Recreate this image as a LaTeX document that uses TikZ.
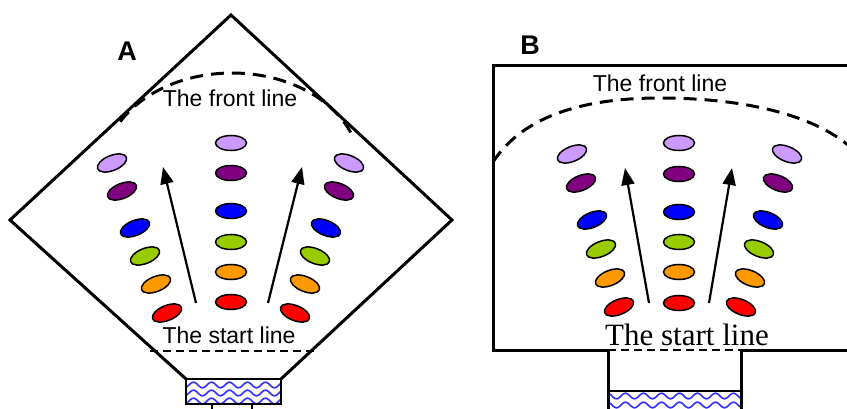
\documentclass[tikz,border=0pt]{standalone}
\usepackage{fontspec}
\setmainfont{Liberation Serif}
\newfontfamily\arialfam{Liberation Sans}
\usetikzlibrary{shapes.geometric,arrows.meta}

\definecolor{lilac}{HTML}{CC99FF}
\definecolor{plum}{HTML}{800080}
\definecolor{royal}{HTML}{0000FF}
\definecolor{lime}{HTML}{99CC00}
\definecolor{amber}{HTML}{FF9900}
\definecolor{scarlet}{HTML}{FF0000}
\definecolor{wave}{HTML}{3030FF}

\tikzset{
  wall/.style={line width=3pt, line join=miter, line cap=rect},
  bead/.style={ellipse, draw, line width=1.5pt, minimum width=31pt, minimum height=15pt, inner sep=0pt},
  frontdash/.style={line width=3pt, dash pattern=on 13pt off 8pt},
  startdash/.style={line width=2pt, dash pattern=on 8pt off 5pt},
  runarrow/.style={line width=2.2pt, -{Triangle[length=17pt,width=13pt]}},
  sanslabel/.style={font=\arialfam\fontsize{23}{27}\selectfont, anchor=base, inner sep=0pt},
  seriflabel/.style={font=\fontsize{31}{35}\selectfont, anchor=base, inner sep=0pt},
  paneltag/.style={font=\arialfam\bfseries\fontsize{27}{31}\selectfont, anchor=base, inner sep=0pt},
  ripple/.style={wave, line width=1.6pt}
}

\begin{document}
\begin{tikzpicture}[x=1pt, y=-1pt]
\useasboundingbox (0,0) rectangle (847,409);

% ---------------- Panel A: diamond arena ----------------
\node[paneltag] (tagA) at (127,61) {A};

% water tank below the arena
\fill[white] (186,379) rectangle (281,404);
\begin{scope}
  \clip (186,379) rectangle (281,404);
  \foreach \yy in {385,393,401}
    \draw[ripple] plot[domain=183:284, samples=90] (\x, {\yy + 2.8*sin(20*\x)});
\end{scope}
\draw[line width=2.6pt] (186,379) rectangle (281,404);
\draw[line width=2.6pt] (212,404) -- (212,409) (252,404) -- (252,409);

% diamond outline
\draw[wall] (186,379) -- (10,220) -- (231,15) -- (452,220) -- (281,379);

% front line arc
\draw[frontdash] plot[domain=22:152, samples=80] ({232+128*cos(\x)}, {168-95*sin(\x)});
\node[sanslabel] (frontA) at (230,107) {The front line};

% start line
\draw[startdash] (150,351) -- (317,351);
\node[sanslabel] (startA) at (229,343) {The start line};

% beads: centre column
\node[bead, fill=lilac]   (ac1) at (231,143) {};
\node[bead, fill=plum]    (ac2) at (231,173) {};
\node[bead, fill=royal]   (ac3) at (231,211) {};
\node[bead, fill=lime]    (ac4) at (231,242) {};
\node[bead, fill=amber]   (ac5) at (231,272) {};
\node[bead, fill=scarlet] (ac6) at (231,302) {};
% beads: left column
\node[bead, fill=lilac,   rotate=22] (al1) at (112,163) {};
\node[bead, fill=plum,    rotate=22] (al2) at (122,191) {};
\node[bead, fill=royal,   rotate=22] (al3) at (135,228) {};
\node[bead, fill=lime,    rotate=22] (al4) at (145,256) {};
\node[bead, fill=amber,   rotate=22] (al5) at (156,284) {};
\node[bead, fill=scarlet, rotate=22] (al6) at (167,313) {};
% beads: right column
\node[bead, fill=lilac,   rotate=-22] (ar1) at (349,163) {};
\node[bead, fill=plum,    rotate=-22] (ar2) at (339,191) {};
\node[bead, fill=royal,   rotate=-22] (ar3) at (326,228) {};
\node[bead, fill=lime,    rotate=-22] (ar4) at (315,256) {};
\node[bead, fill=amber,   rotate=-22] (ar5) at (305,284) {};
\node[bead, fill=scarlet, rotate=-22] (ar6) at (295,313) {};

% direction arrows
\coordinate (aLfrom) at (196,303);
\coordinate (aLto)   at (163,167);
\coordinate (aRfrom) at (268,303);
\coordinate (aRto)   at (302,167);
\draw[runarrow] (aLfrom) -- (aLto);
\draw[runarrow] (aRfrom) -- (aRto);

% ---------------- Panel B: rectangular arena ----------------
\node[paneltag] (tagB) at (530,55) {B};

% water in the entry channel
\begin{scope}
  \clip (608,391) rectangle (741,409);
  \foreach \yy in {396,405}
    \draw[ripple] plot[domain=605:744, samples=110] (\x, {\yy + 2.8*sin(20*\x)});
\end{scope}
\draw[line width=2.6pt] (608,391) -- (741,391);

% arena outline and entry channel
\draw[wall] (850,65.5) -- (493,65.5) -- (493,350) -- (608,350) -- (608,412);
\draw[wall] (741,412) -- (741,350) -- (850,350);

% front line arc
\draw[frontdash] (493,162) .. controls (525,113) and (590,98) .. (660,98)
                 .. controls (730,98) and (805,110) .. (848,145);
\node[sanslabel] (frontB) at (660,92) {The front line};

% start line
\draw[startdash] (608,350) -- (741,350);
\node[seriflabel] (startB) at (687,345) {The start line};

% beads: centre column
\node[bead, fill=lilac]   (bc1) at (679,143) {};
\node[bead, fill=plum]    (bc2) at (679,174) {};
\node[bead, fill=royal]   (bc3) at (679,212) {};
\node[bead, fill=lime]    (bc4) at (679,242) {};
\node[bead, fill=amber]   (bc5) at (679,272) {};
\node[bead, fill=scarlet] (bc6) at (679,303) {};
% beads: left column
\node[bead, fill=lilac,   rotate=22] (bl1) at (572,154) {};
\node[bead, fill=plum,    rotate=22] (bl2) at (581,183) {};
\node[bead, fill=royal,   rotate=22] (bl3) at (592,220) {};
\node[bead, fill=lime,    rotate=22] (bl4) at (601,249) {};
\node[bead, fill=amber,   rotate=22] (bl5) at (610,278) {};
\node[bead, fill=scarlet, rotate=22] (bl6) at (619,307) {};
% beads: right column
\node[bead, fill=lilac,   rotate=-22] (br1) at (787,154) {};
\node[bead, fill=plum,    rotate=-22] (br2) at (778,183) {};
\node[bead, fill=royal,   rotate=-22] (br3) at (768,220) {};
\node[bead, fill=lime,    rotate=-22] (br4) at (759,249) {};
\node[bead, fill=amber,   rotate=-22] (br5) at (750,278) {};
\node[bead, fill=scarlet, rotate=-22] (br6) at (741,307) {};

% direction arrows
\coordinate (bLfrom) at (649,303);
\coordinate (bLto)   at (625,168);
\coordinate (bRfrom) at (709,303);
\coordinate (bRto)   at (732,168);
\draw[runarrow] (bLfrom) -- (bLto);
\draw[runarrow] (bRfrom) -- (bRto);
\end{tikzpicture}
\end{document}
